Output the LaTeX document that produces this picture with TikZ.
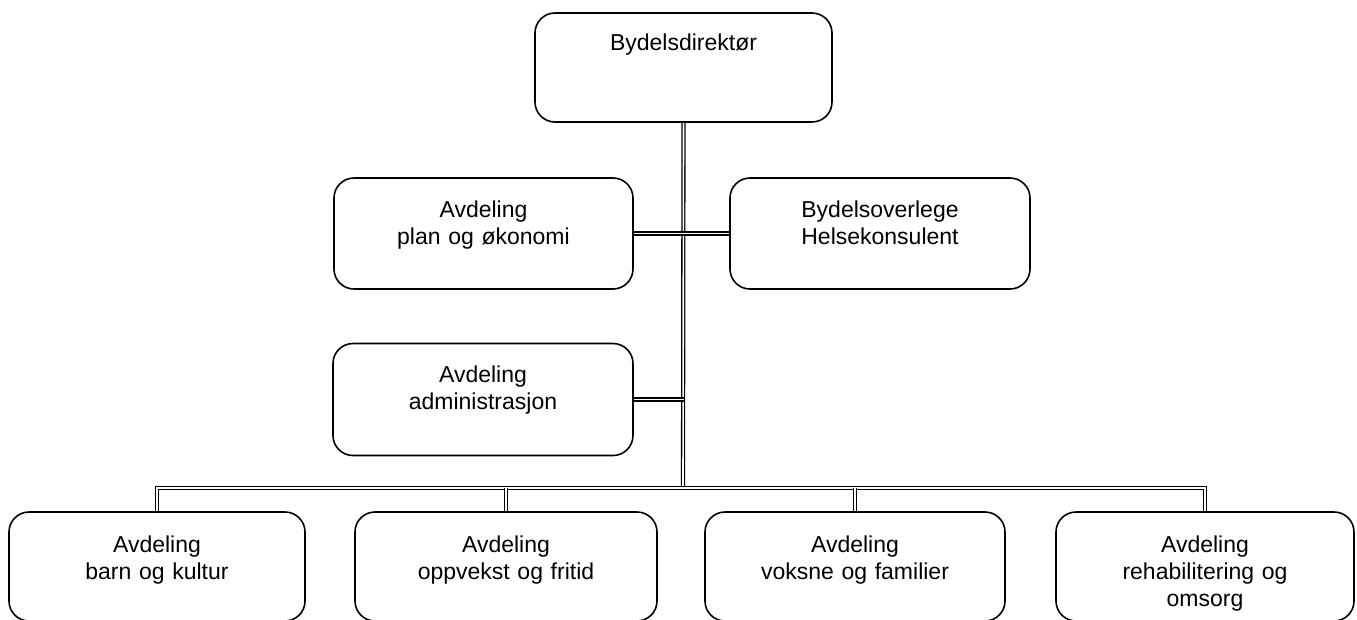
\documentclass[tikz,border=0pt]{standalone}
\usepackage{fontspec}
\setmainfont{Liberation Sans}
\begin{document}
\begin{tikzpicture}[x=1pt,y=-1pt,
  orgbox/.style={draw=black, line width=1.6pt, rounded corners=20pt, inner sep=0pt,
    align=center, font=\fontsize{23}{27}\selectfont},
  conn/.style={draw=black, line width=1.3pt, double=white, double distance=1.6pt}]
\useasboundingbox (0,0) rectangle (1357,619);
\node[orgbox, text width=297pt, text height=37pt, text depth=72pt] (top) at (683.5,67.5) {Bydelsdirektør};
\node[orgbox, text width=299pt, text height=39pt, text depth=72pt] (plan) at (483.5,233.5) {Avdeling\\plan og økonomi};
\node[orgbox, text width=300pt, text height=39pt, text depth=72pt] (over) at (880,233.5) {Bydelsoverlege\\Helsekonsulent};
\node[orgbox, text width=300pt, text height=39pt, text depth=73pt] (admin) at (483,399.5) {Avdeling\\administrasjon};
\node[orgbox, text width=296pt, text height=40pt, text depth=69pt] (b1) at (157,566.5) {Avdeling\\barn og kultur};
\node[orgbox, text width=302pt, text height=40pt, text depth=69pt] (b2) at (506,566.5) {Avdeling\\oppvekst og fritid};
\node[orgbox, text width=300pt, text height=40pt, text depth=69pt] (b3) at (855,566.5) {Avdeling\\voksne og familier};
\node[orgbox, text width=298pt, text height=40pt, text depth=69pt] (b4) at (1205,566.5) {Avdeling\\rehabilitering og\\omsorg};
\coordinate (bus) at (683,488);
\draw[conn] (top.south) -- (bus);
\draw[conn] (plan.east) -- (over.west);
\draw[conn] (admin.east) -- (admin.east -| top.south);
\draw[conn] (b1.north) -- (b1.north |- bus) -- (b4.north |- bus) -- (b4.north);
\draw[conn] (b2.north) -- (b2.north |- bus);
\draw[conn] (b3.north) -- (b3.north |- bus);
\end{tikzpicture}
\end{document}
